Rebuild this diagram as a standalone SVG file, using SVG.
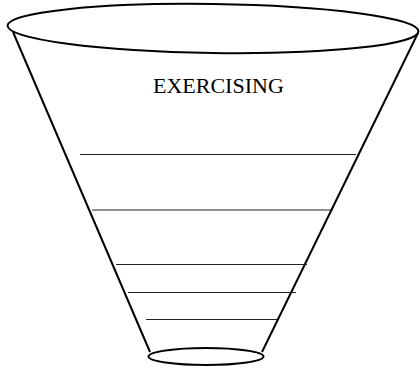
<svg xmlns="http://www.w3.org/2000/svg" width="420" height="368" viewBox="0 0 420 368">
<style>
.rim{fill:none;stroke:#000;stroke-width:2}
.side{stroke:#000;stroke-width:2}
.rule{stroke:#222;stroke-width:1.2}
.lbl{font-family:"Liberation Serif","Times New Roman",serif;font-size:22px;fill:#000}
</style>
<rect width="420" height="368" fill="#fff"/>
<g id="funnel">
<line class="side" x1="13" y1="32" x2="150" y2="352"/>
<line class="side" x1="418" y1="33" x2="262" y2="352"/>
<ellipse class="rim" cx="213" cy="28.5" rx="205.5" ry="24.5" transform="rotate(0.8 213 28.5)"/>
<ellipse class="rim" cx="206" cy="356.5" rx="57.5" ry="8.5"/>
</g>
<g id="levels">
<line class="rule" x1="80" y1="154.5" x2="356" y2="154.5"/>
<line class="rule" x1="92" y1="210" x2="333" y2="210"/>
<line class="rule" x1="116" y1="264.5" x2="307" y2="264.5"/>
<line class="rule" x1="128" y1="292.5" x2="296" y2="292.5"/>
<line class="rule" x1="146" y1="319.5" x2="277" y2="319.5"/>
</g>
<g id="label">
<text class="lbl" x="153" y="93">EXERCISING</text>
</g>
</svg>
